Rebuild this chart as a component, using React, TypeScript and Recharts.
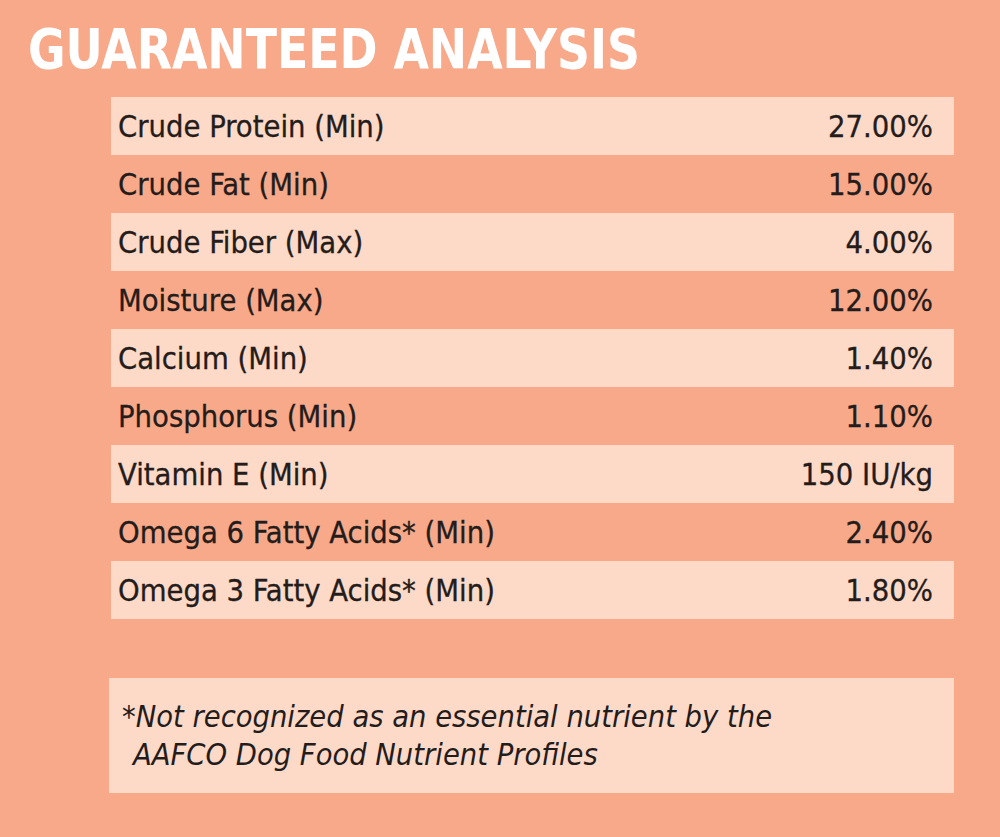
import React from "react";
import { BarChart, Bar, XAxis, YAxis } from "recharts";

const rowLabels = [
  "Crude Protein (Min)",
  "Crude Fat (Min)",
  "Crude Fiber (Max)",
  "Moisture (Max)",
  "Calcium (Min)",
  "Phosphorus (Min)",
  "Vitamin E (Min)",
  "Omega 6 Fatty Acids* (Min)",
  "Omega 3 Fatty Acids* (Min)",
];
const rowAmounts = [
  "27.00%",
  "15.00%",
  "4.00%",
  "12.00%",
  "1.40%",
  "1.10%",
  "150 IU/kg",
  "2.40%",
  "1.80%",
];
const rowValues = [27, 15, 4, 12, 1.4, 1.1, 150, 2.4, 1.8];

const title = "GUARANTEED ANALYSIS";
const footnoteLines = [
  "*Not recognized as an essential nutrient by the",
  "AAFCO Dog Food Nutrient Profiles",
];

const BG = "#F8A98A";
const LIGHT = "#FDD9C8";
const INK = "#241C1A";
const FONT = "'DejaVu Sans Condensed', 'DejaVu Sans', sans-serif";

const data = rowLabels.map((name, i) => ({
  name,
  amount: rowAmounts[i],
  value: rowValues[i],
}));

const LeftTick = (props: any) => {
  const { x, y, payload } = props;
  return (
    <text
      x={x + 7}
      y={y}
      dy="0.36em"
      textAnchor="start"
      fontSize={30.6}
      fontFamily={FONT}
      fill={INK}
      stroke={INK}
      strokeWidth={0.3}
    >
      {payload.value}
    </text>
  );
};

const RightTick = (props: any) => {
  const { x, y, payload } = props;
  return (
    <text
      x={x - 21}
      y={y}
      dy="0.36em"
      textAnchor="end"
      fontSize={30.6}
      fontFamily={FONT}
      fill={INK}
      stroke={INK}
      strokeWidth={0.3}
    >
      {payload.value}
    </text>
  );
};

// alternate rows get the pale stripe, the others show the page colour
const RowStripe = (props: any) => {
  const { x, y, width, height, index } = props;
  return <rect x={x} y={y} width={width} height={height} fill={index % 2 === 0 ? LIGHT : "none"} />;
};

export default function App() {
  return (
    <div
      style={{
        position: "absolute",
        left: 0,
        top: 0,
        width: 1000,
        height: 837,
        background: BG,
        overflow: "hidden",
      }}
    >
      <BarChart
        layout="vertical"
        width={1000}
        height={837}
        data={data}
        margin={{ top: 97, right: 45, bottom: 218, left: 110 }}
        barCategoryGap={0}
      >
        <XAxis type="number" hide domain={[0, 160]} />
        <YAxis
          yAxisId="left"
          type="category"
          dataKey="name"
          width={1}
          axisLine={false}
          tickLine={false}
          tickSize={0}
          tickMargin={0}
          interval={0}
          tick={<LeftTick />}
        />
        <YAxis
          yAxisId="right"
          orientation="right"
          type="category"
          dataKey="amount"
          width={1}
          axisLine={false}
          tickLine={false}
          tickSize={0}
          tickMargin={0}
          interval={0}
          tick={<RightTick />}
        />
        <Bar
          yAxisId="left"
          dataKey="value"
          fill="none"
          background={<RowStripe />}
          isAnimationActive={false}
        />
      </BarChart>
      <svg
        width={1000}
        height={837}
        style={{ position: "absolute", left: 0, top: 0, pointerEvents: "none" }}
      >
        <text
          x={28}
          y={68}
          fontSize={56}
          fontWeight="bold"
          fontFamily={FONT}
          fill="#FFFFFF"
          textLength={612}
          lengthAdjust="spacingAndGlyphs"
        >
          {title}
        </text>
        <rect x={109} y={678} width={845} height={115} fill={LIGHT} />
        <text x={122} y={727} fontSize={30.5} fontStyle="italic" fontFamily={FONT} fill={INK}>
          {footnoteLines[0]}
        </text>
        <text x={133} y={765} fontSize={30.5} fontStyle="italic" fontFamily={FONT} fill={INK}>
          {footnoteLines[1]}
        </text>
      </svg>
    </div>
  );
}
